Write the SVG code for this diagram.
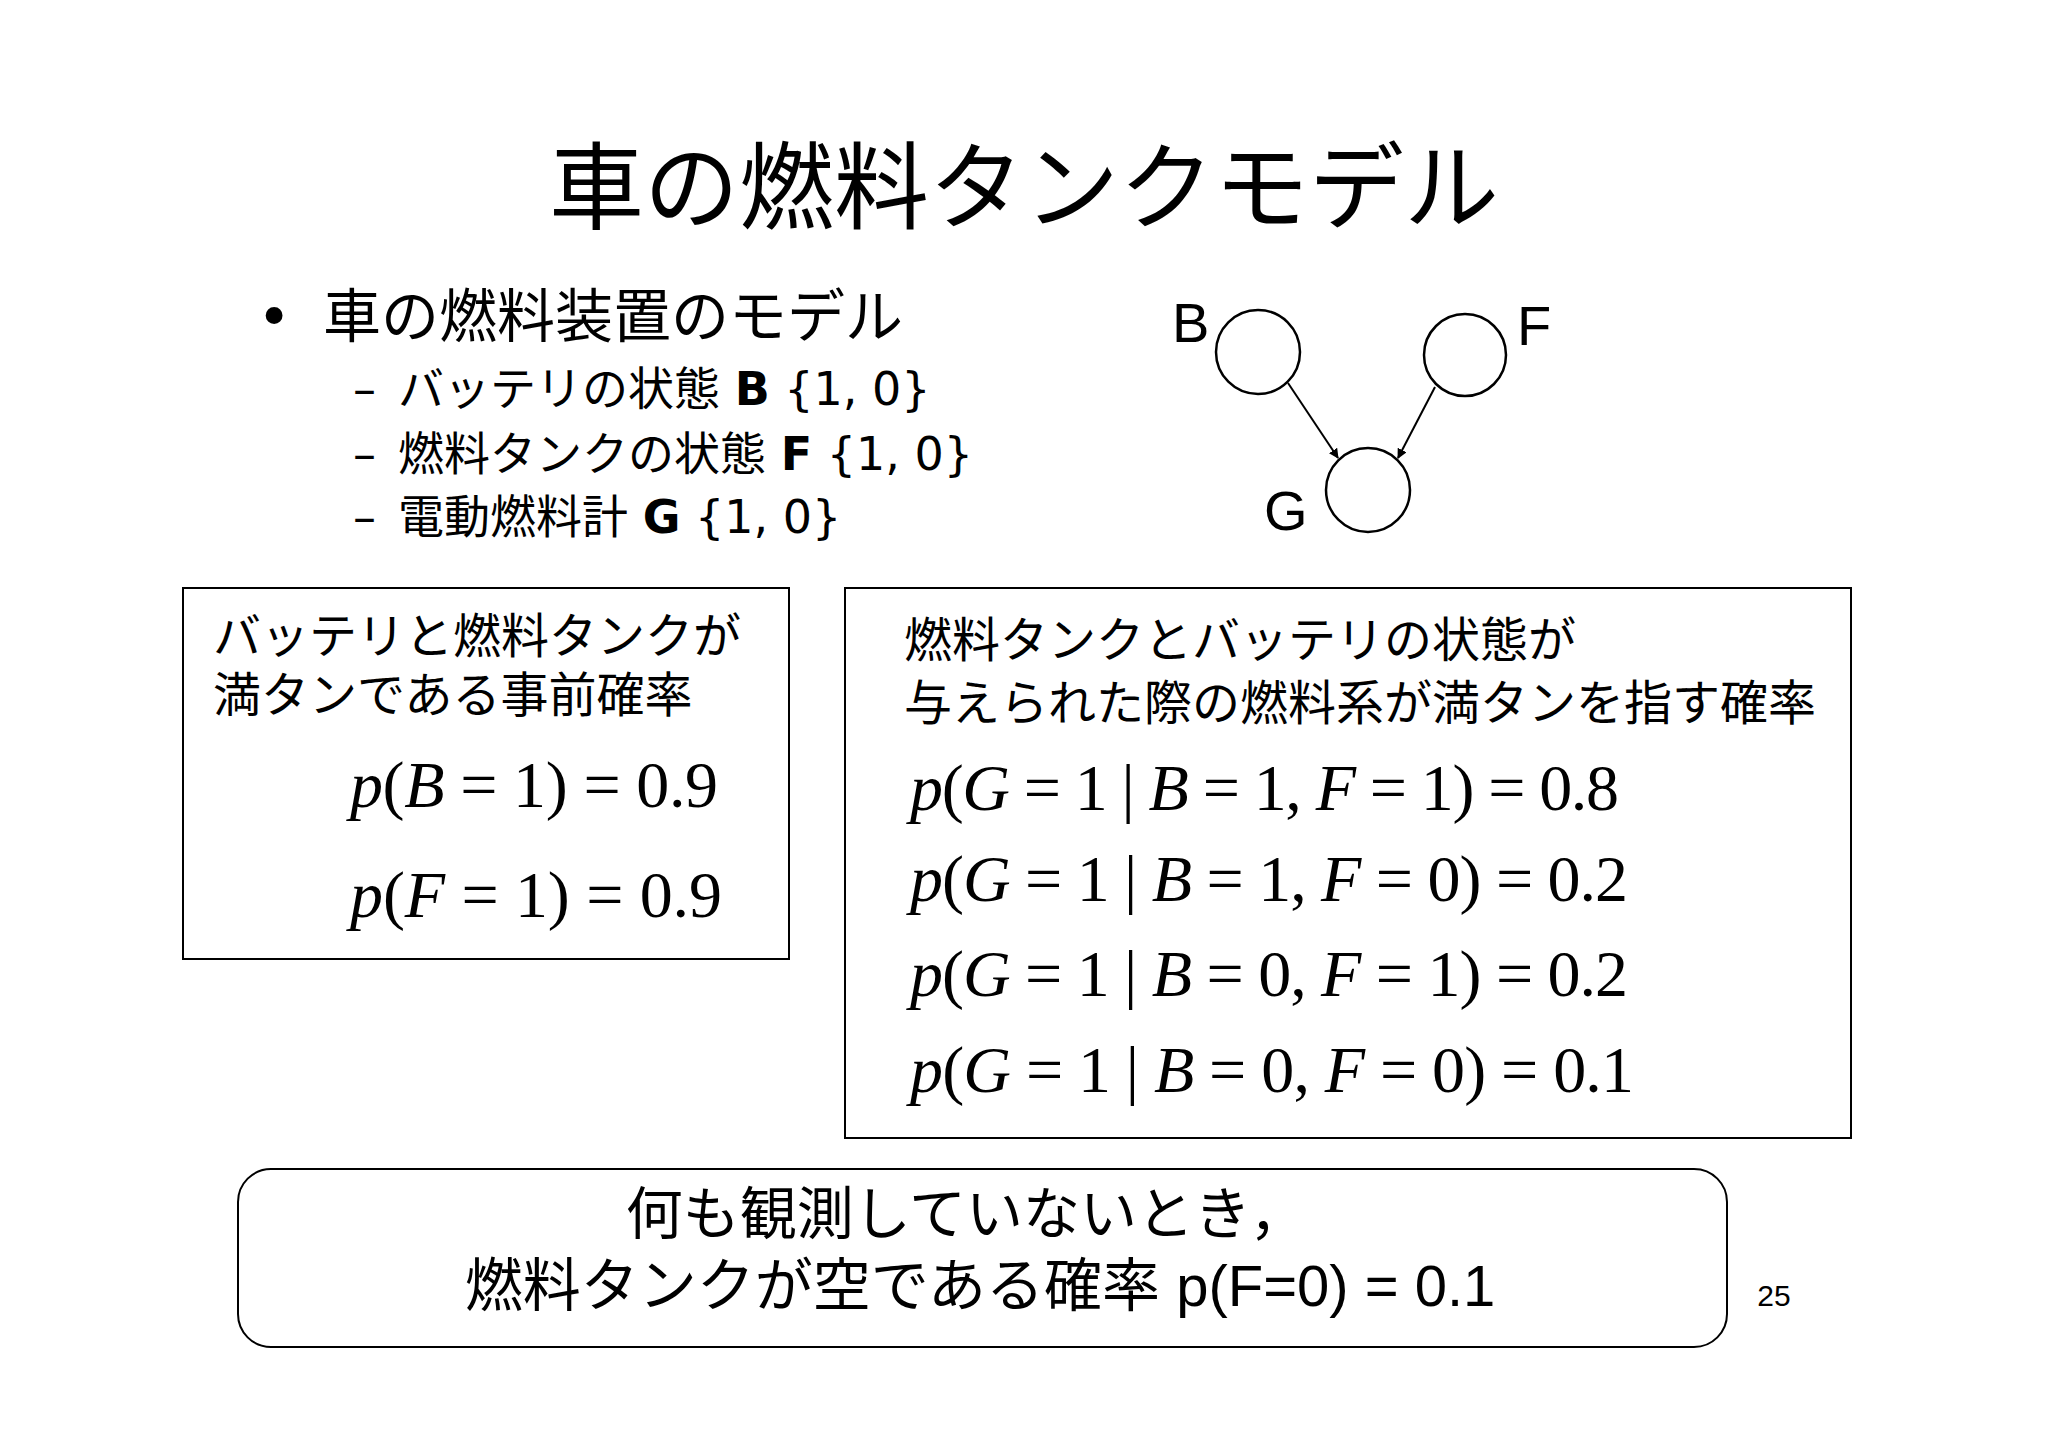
<svg xmlns="http://www.w3.org/2000/svg" width="2048" height="1448" viewBox="0 0 2048 1448">
<style>
.jp{font-family:"DejaVu Sans","Noto Sans CJK JP",sans-serif;fill:#000}
.m{font-family:"Liberation Serif",serif;font-size:66px;fill:#000}
.i{font-style:italic}
.box{fill:#fff;stroke:#000;stroke-width:2}
.node{fill:#fff;stroke:#000;stroke-width:2.5}
.lbl{font-family:"Liberation Sans",Arial,sans-serif;font-size:56px;fill:#000}
</style>
<defs><marker id="ah" markerWidth="10" markerHeight="10" refX="9" refY="5" orient="auto" markerUnits="userSpaceOnUse" viewBox="0 0 10 10"><path d="M0,0 L10,5 L0,10 z" fill="#000"/></marker></defs>
<rect width="2048" height="1448" fill="#fff"/>
<text class="jp" x="1024" y="222" font-size="95" text-anchor="middle">車の燃料タンクモデル</text>
<text class="jp" x="274" y="337" font-size="58" text-anchor="middle">•</text>
<text class="jp" x="323" y="337" font-size="58">車の燃料装置のモデル</text>
<g font-size="46" class="jp">
<text class="jp" x="353" y="405">–</text><text class="jp" x="398" y="405">バッテリの状態 <tspan font-weight="bold">B</tspan> {1, 0}</text>
<text class="jp" x="353" y="470">–</text><text class="jp" x="398" y="470">燃料タンクの状態 <tspan font-weight="bold">F</tspan> {1, 0}</text>
<text class="jp" x="353" y="533">–</text><text class="jp" x="398" y="533">電動燃料計 <tspan font-weight="bold">G</tspan> {1, 0}</text>
</g>
<g id="nodeB"><circle class="node" cx="1258" cy="352" r="42"/><text class="lbl" x="1172" y="342">B</text></g>
<g id="nodeF"><circle class="node" cx="1465" cy="355" r="41"/><text class="lbl" x="1517" y="345">F</text></g>
<g id="nodeG"><circle class="node" cx="1368" cy="490" r="42"/><text class="lbl" x="1264" y="530">G</text></g>
<g id="connectors" stroke="#000" stroke-width="2" fill="none">
<line x1="1288" y1="383" x2="1338" y2="458" marker-end="url(#ah)"/>
<line x1="1435" y1="387" x2="1398" y2="458" marker-end="url(#ah)"/>
</g>
<g id="box1">
<rect class="box" x="183" y="588" width="606" height="371"/>
<text class="jp" x="213" y="653" font-size="48">バッテリと燃料タンクが</text>
<text class="jp" x="213" y="712" font-size="48">満タンである事前確率</text>
<text class="m" x="350" y="807" textLength="368"><tspan class="i">p</tspan>(<tspan class="i">B</tspan> = 1) = 0.9</text>
<text class="m" x="350" y="917" textLength="372"><tspan class="i">p</tspan>(<tspan class="i">F</tspan> = 1) = 0.9</text>
</g>
<g id="box2">
<rect class="box" x="845" y="588" width="1006" height="550"/>
<text class="jp" x="904" y="657" font-size="48">燃料タンクとバッテリの状態が</text>
<text class="jp" x="904" y="720" font-size="48">与えられた際の燃料系が満タンを指す確率</text>
<text class="m" x="910" y="810" textLength="709"><tspan class="i">p</tspan>(<tspan class="i">G</tspan> = 1 | <tspan class="i">B</tspan> = 1, <tspan class="i">F</tspan> = 1) = 0.8</text>
<text class="m" x="910" y="901" textLength="718"><tspan class="i">p</tspan>(<tspan class="i">G</tspan> = 1 | <tspan class="i">B</tspan> = 1, <tspan class="i">F</tspan> = 0) = 0.2</text>
<text class="m" x="910" y="996" textLength="718"><tspan class="i">p</tspan>(<tspan class="i">G</tspan> = 1 | <tspan class="i">B</tspan> = 0, <tspan class="i">F</tspan> = 1) = 0.2</text>
<text class="m" x="910" y="1092" textLength="724"><tspan class="i">p</tspan>(<tspan class="i">G</tspan> = 1 | <tspan class="i">B</tspan> = 0, <tspan class="i">F</tspan> = 0) = 0.1</text>
</g>
<g id="note">
<rect class="box" x="238" y="1169" width="1489" height="178" rx="33"/>
<text x="966" y="1234" font-size="57" text-anchor="middle" font-family="Liberation Sans,Noto Sans CJK JP,sans-serif">何も観測していないとき，</text>
<text x="980" y="1306" font-size="58" text-anchor="middle" font-family="Liberation Sans,Noto Sans CJK JP,sans-serif">燃料タンクが空である確率 p(F=0) = 0.1</text>
</g>
<text x="1774" y="1306" font-size="30" text-anchor="middle" font-family="Liberation Sans,sans-serif">25</text>
</svg>
